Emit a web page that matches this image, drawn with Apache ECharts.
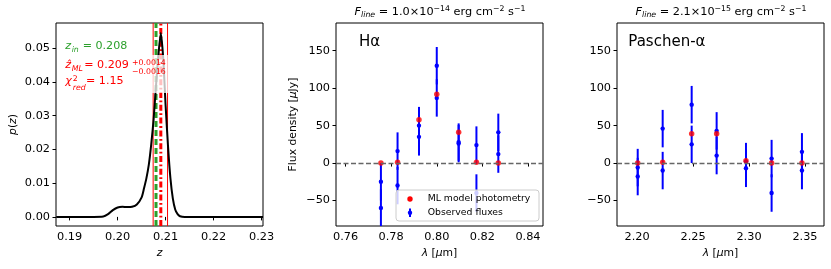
<!DOCTYPE html>
<html><head><meta charset="utf-8">
<script src="https://cdn.jsdelivr.net/npm/echarts@6/dist/echarts.min.js"></script>
<style>html,body{margin:0;padding:0;background:#fff}#c{width:831px;height:269px}</style>
</head><body><div id="c"></div>
<script>
// ---------- data ----------
const zGrid = [0.1872, 0.195, 0.197, 0.198, 0.199, 0.200, 0.201, 0.202, 0.203, 0.204, 0.205, 0.2055, 0.206, 0.2065, 0.207, 0.2075, 0.208, 0.2085, 0.209, 0.2095, 0.210, 0.2105, 0.211, 0.2115, 0.212, 0.2125, 0.213, 0.214, 0.2303];
const pz    = [0, 0, 0.0001, 0.0008, 0.0020, 0.0028, 0.0030, 0.0029, 0.0030, 0.0037, 0.0058, 0.0085, 0.0115, 0.0155, 0.0215, 0.0290, 0.0390, 0.0480, 0.0545, 0.0470, 0.0330, 0.0210, 0.0115, 0.0055, 0.0022, 0.0008, 0.0002, 0, 0];
const zIn = 0.208, zML = 0.209, zLo = 0.2074, zHi = 0.2104;
const pAxisMin = -0.0027, pAxisMax = 0.0575;

const haLambda = [0.7755, 0.7828, 0.7922, 0.8000, 0.8096, 0.8174, 0.8270];
const haModel  = [0, 1, 58, 92, 41, 1, 0];
const haObsA   = [-25, 16, 50, 130, 28, 24, 41];
const haObsB   = [-60, -30, 35, 87, 26, -40, 12];
const haErr    = [25, 25, 25, 25, 25, 25, 25];

const paLambda = [2.2006, 2.2229, 2.2488, 2.2711, 2.2973, 2.3202, 2.3473];
const paModel  = [0, 1, 39, 39, 3, 0, 0];
const paObsA   = [-6, 46, 78, 43, 2, 6, 15];
const paObsB   = [-18, -10, 25, 10, -7, -40, -10];
const paErr    = [25, 25, 25, 25, 25, 25, 25];

const zTicks = [0.19, 0.20, 0.21, 0.22, 0.23];
const pTicks = [0, 0.01, 0.02, 0.03, 0.04, 0.05];
const haTicks = [0.76, 0.78, 0.80, 0.82, 0.84];
const paTicks = [2.20, 2.25, 2.30, 2.35];
const fluxTicks = [-50, 0, 50, 100, 150];

// ---------- chart ----------
const FONT = 'DejaVu Sans';
const FS = 11.3;
const GREEN = '#2ca02c', RED = '#ff0000', BLUE = '#0000ff';
const chart = echarts.init(document.getElementById('c'), null, {renderer: 'canvas'});
const minus = v => (v < 0 ? '\u2212' : '') + Math.abs(v);
const richName = {
  n: {fontSize: 10.8, fontFamily: FONT, color: '#000'},
  i: {fontSize: 10.8, fontFamily: FONT, color: '#000', fontStyle: 'italic'}
};
function xAx(idx, min, max, ticks, name, fmt) {
  return {
    type: 'value', gridIndex: idx, min, max, name, nameLocation: 'middle', nameGap: 21,
    nameTextStyle: {rich: richName, fontSize: 10.8, fontFamily: FONT, color: '#000'},
    axisLine: {show: false}, splitLine: {show: false},
    axisTick: {show: true, length: 3.5, lineStyle: {color: '#000', width: 1}, customValues: ticks},
    axisLabel: {customValues: ticks, formatter: fmt, color: '#000', fontSize: FS, fontFamily: FONT, margin: 6}
  };
}
function yAx(idx, min, max, ticks, name, fmt, gap) {
  return {
    type: 'value', gridIndex: idx, min, max, name, nameLocation: 'middle', nameGap: gap, nameRotate: 90,
    nameTextStyle: {rich: richName, fontSize: 10.8, fontFamily: FONT, color: '#000'},
    axisLine: {show: false}, splitLine: {show: false},
    axisTick: {show: true, length: 3.5, lineStyle: {color: '#000', width: 1}, customValues: ticks},
    axisLabel: {customValues: ticks, formatter: fmt, color: '#000', fontSize: FS, fontFamily: FONT, margin: 6}
  };
}
function errItem(params, api) {
  const x = api.value(0), y = api.value(1), e = api.value(2);
  const c = api.coord([x, y]), t = api.coord([x, y + e]), b = api.coord([x, y - e]);
  const cs = params.coordSys;
  const top = Math.max(t[1], cs.y), bot = Math.min(b[1], cs.y + cs.height);
  return {type: 'group', children: [
    {type: 'line', shape: {x1: c[0], y1: top, x2: c[0], y2: bot}, style: {stroke: BLUE, lineWidth: 2}},
    {type: 'circle', shape: {cx: c[0], cy: c[1], r: 2.2}, style: {fill: BLUE}}
  ]};
}
function obsData(lam, a, b, err) {
  const out = [];
  lam.forEach((l, i) => { out.push([l, a[i], err[i]]); out.push([l, b[i], err[i]]); });
  return out;
}
const zeroLine = {silent: true, symbol: ['none', 'none'], label: {show: false},
  lineStyle: {color: '#666', type: [5, 2.5], width: 1.4}, data: [{yAxis: 0}]};
function vLine(x, color, width, dash, z) {
  return {type: 'line', xAxisIndex: 0, yAxisIndex: 0, data: [[x, pAxisMin], [x, pAxisMax]], showSymbol: false,
    silent: true, z, lineStyle: {color, width, type: dash}};
}

const supRich = {
  n: {fontSize: FS, fontFamily: FONT, color: '#000', lineHeight: 14},
  i: {fontSize: FS, fontFamily: FONT, color: '#000', fontStyle: 'italic', lineHeight: 14},
  sub: {fontSize: 7.8, fontFamily: FONT, color: '#000', fontStyle: 'italic', lineHeight: 6.4, verticalAlign: 'bottom'},
  sup: {fontSize: 7.8, fontFamily: FONT, color: '#000', lineHeight: 7.4, verticalAlign: 'top'}
};
const titleTxt = (m, e) => '{i|F}{sub|line}{n| = ' + m + '\u00d710}{sup|\u2212' + e + '}{n| erg cm}{sup|\u22122}{n| s}{sup|\u22121}';

function txt(text, x, y, size, color, italic, align) {
  return {type: 'text', z: 101, silent: true, style: {text, x, y, fill: color, align: align || 'left', verticalAlign: 'middle',
    fontSize: size, fontFamily: FONT, fontStyle: italic ? 'italic' : 'normal'}};
}

const AF = 11.1, SF = 7.8;
const graphics = [
  {type: 'text', z: 101, silent: true, style: {text: titleTxt('1.0', 14), x: 440, y: 12.3, align: 'center', verticalAlign: 'middle', rich: supRich, fontFamily: FONT}},
  {type: 'text', z: 101, silent: true, style: {text: titleTxt('2.1', 15), x: 721, y: 12.3, align: 'center', verticalAlign: 'middle', rich: supRich, fontFamily: FONT}},
  txt('H\u03b1', 359, 41.7, 15, '#000', false),
  txt('Paschen-\u03b1', 628.3, 41.7, 15, '#000', false),
  txt('z', 65.3, 46.3, AF, GREEN, true),
  txt('in', 71.7, 49.8, SF, GREEN, true),
  txt('= 0.208', 82.7, 46.3, AF, GREEN, false),
  {type: 'rect', z: 100, silent: true, shape: {x: 62, y: 55, width: 107, height: 38}, style: {fill: 'rgba(255,255,255,0.75)'}},
  txt('\u1e91', 65.3, 65.6, AF, RED, true),
  txt('ML', 71.7, 69.2, SF, RED, true),
  txt('= 0.209', 84.3, 65.6, AF, RED, false),
  txt('+0.0014', 132, 62.7, SF, RED, false),
  txt('\u22120.0016', 132, 71.7, SF, RED, false),
  txt('\u03c7', 65.3, 81.3, AF, RED, true),
  txt('2', 72.7, 79.3, SF, RED, false),
  txt('red', 72.7, 87.7, SF, RED, true),
  txt('= 1.15', 86, 81.3, AF, RED, false),
  {type: 'rect', z: 100, silent: true, shape: {x: 396, y: 190, width: 143, height: 31, r: 3}, style: {fill: 'rgba(255,255,255,0.8)', stroke: '#cccccc', lineWidth: 1}},
  {type: 'circle', z: 101, silent: true, shape: {cx: 410, cy: 199, r: 2.7}, style: {fill: RED}},
  {type: 'line', z: 101, silent: true, shape: {x1: 410, y1: 208.5, x2: 410, y2: 217}, style: {stroke: BLUE, lineWidth: 2}},
  {type: 'circle', z: 101, silent: true, shape: {cx: 410, cy: 212.7, r: 2.2}, style: {fill: BLUE}},
  txt('ML model photometry', 427.7, 199, 9.3, '#000', false),
  txt('Observed fluxes', 427.7, 212.5, 9.3, '#000', false)
];

const option = {
  animation: false,
  backgroundColor: '#fff',
  textStyle: {fontFamily: FONT},
  grid: [
    {left: 56, top: 23, width: 207, height: 203, show: true, borderColor: '#000', borderWidth: 1, backgroundColor: 'transparent'},
    {left: 336, top: 23, width: 207, height: 203, show: true, borderColor: '#000', borderWidth: 1, backgroundColor: 'transparent'},
    {left: 617, top: 23, width: 207, height: 203, show: true, borderColor: '#000', borderWidth: 1, backgroundColor: 'transparent'}
  ],
  xAxis: [
    xAx(0, 0.18715, 0.2303, zTicks, '{i|z}', v => v.toFixed(2)),
    xAx(1, 0.7558, 0.8466, haTicks, '{i|\u03bb}{n| [}{i|\u03bc}{n|m]}', v => v.toFixed(2)),
    xAx(2, 2.1821, 2.367, paTicks, '{i|\u03bb}{n| [}{i|\u03bc}{n|m]}', v => v.toFixed(2))
  ],
  yAxis: [
    yAx(0, pAxisMin, pAxisMax, pTicks, '{i|p}{n|(}{i|z}{n|)}', v => v.toFixed(2), 37),
    yAx(1, -84, 187, fluxTicks, '{n|Flux density [}{i|\u03bc}{n|Jy]}', minus, 37),
    yAx(2, -84, 187, fluxTicks, '', minus, 37)
  ],
  series: [
    vLine(zLo, RED, 1, 'solid', 2),
    vLine(zHi, RED, 1, 'solid', 2),
    vLine(zIn, GREEN, 3, [6, 3], 3),
    vLine(zML, RED, 3, [6, 2.5, 1.8, 2.5], 3),
    {type: 'line', xAxisIndex: 0, yAxisIndex: 0, data: zGrid.map((z, i) => [z, pz[i]]), smooth: 0.25,
      showSymbol: false, silent: true, z: 4, lineStyle: {color: '#000', width: 2}},
    {type: 'custom', name: 'Observed fluxes', xAxisIndex: 1, yAxisIndex: 1, renderItem: errItem,
      data: obsData(haLambda, haObsA, haObsB, haErr), encode: {x: 0, y: 1}, z: 3, silent: true},
    {type: 'scatter', name: 'ML model photometry', xAxisIndex: 1, yAxisIndex: 1,
      data: haLambda.map((l, i) => [l, haModel[i]]), symbolSize: 5.5, itemStyle: {color: RED}, z: 4, silent: true,
      markLine: zeroLine},
    {type: 'custom', name: 'Observed fluxes', xAxisIndex: 2, yAxisIndex: 2, renderItem: errItem,
      data: obsData(paLambda, paObsA, paObsB, paErr), encode: {x: 0, y: 1}, z: 3, silent: true},
    {type: 'scatter', name: 'ML model photometry', xAxisIndex: 2, yAxisIndex: 2,
      data: paLambda.map((l, i) => [l, paModel[i]]), symbolSize: 5.5, itemStyle: {color: RED}, z: 4, silent: true,
      markLine: zeroLine}
  ],
  graphic: graphics
};
chart.setOption(option);
</script></body></html>
